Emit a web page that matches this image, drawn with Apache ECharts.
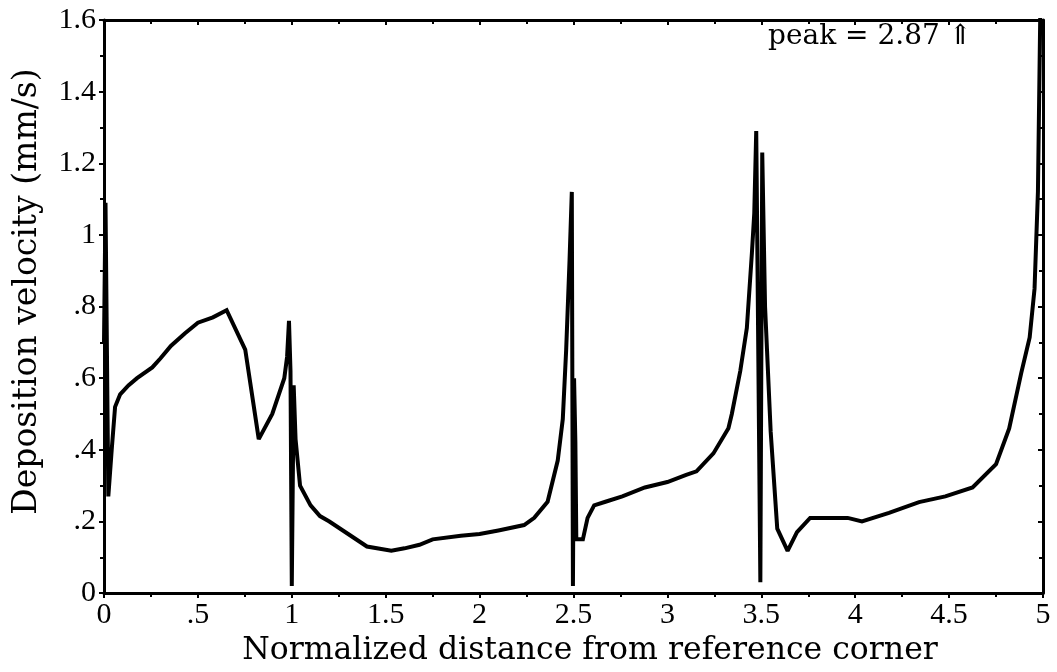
<!DOCTYPE html>
<html>
<head>
<meta charset="utf-8">
<script src="https://cdn.jsdelivr.net/npm/echarts@6/dist/echarts.min.js"></script>
<style>
html,body{margin:0;padding:0;background:#fff;}
#chart{width:1057px;height:672px;}
</style>
</head>
<body>
<div id="chart"></div>
<script>
// Normalized distance (x) and deposition velocity (mm/s)
const distance = [
  0, 0.008, 0.023, 0.041, 0.059, 0.086, 0.13, 0.176, 0.257, 0.3, 0.356, 0.43, 0.5, 0.58, 0.653,
  0.752, 0.824, 0.896, 0.96, 0.975, 0.985, 0.993, 1.0, 1.01, 1.02, 1.044, 1.1, 1.15, 1.2, 1.3,
  1.4, 1.53, 1.6, 1.68, 1.75, 1.9, 2.0, 2.1, 2.237, 2.291, 2.362, 2.416, 2.443, 2.461, 2.479,
  2.491, 2.497, 2.503, 2.51, 2.515, 2.55, 2.575, 2.61, 2.67, 2.76, 2.88, 3.0, 3.1, 3.155, 3.245,
  3.325, 3.343, 3.388, 3.423, 3.45, 3.4625, 3.473, 3.48, 3.495, 3.505, 3.52, 3.55, 3.585, 3.64,
  3.69, 3.76, 3.96, 4.036, 4.18, 4.34, 4.48, 4.625, 4.75, 4.82, 4.884, 4.929, 4.955, 4.973, 4.99, 5.0
];
const velocity = [
  0.7, 1.09, 0.27, 0.40, 0.52, 0.555, 0.58, 0.60, 0.63, 0.655, 0.69, 0.725, 0.755, 0.77, 0.79,
  0.68, 0.43, 0.50, 0.60, 0.66, 0.76, 0.62, 0.02, 0.58, 0.43, 0.30, 0.245, 0.215, 0.2, 0.165,
  0.13, 0.118, 0.125, 0.135, 0.15, 0.16, 0.165, 0.175, 0.19, 0.21, 0.255, 0.37, 0.486, 0.68, 0.93,
  1.12, 0.02, 0.60, 0.42, 0.15, 0.15, 0.21, 0.245, 0.255, 0.27, 0.295, 0.31, 0.33, 0.34, 0.39,
  0.46, 0.50, 0.62, 0.74, 0.95, 1.06, 1.29, 0.9, 0.03, 1.23, 0.8, 0.45, 0.18, 0.118,
  0.17, 0.21, 0.21, 0.20, 0.224, 0.254, 0.27, 0.295, 0.36, 0.46, 0.614, 0.714, 0.85, 1.12, 1.8, 2.87
];
const xTicks = [0, 0.5, 1, 1.5, 2, 2.5, 3, 3.5, 4, 4.5, 5];
const yTicks = [0, 0.2, 0.4, 0.6, 0.8, 1, 1.2, 1.4, 1.6];
const xTitle = 'Normalized distance from reference corner';
const yTitle = 'Deposition velocity (mm/s)';
const peakNote = 'peak = 2.87 \u21D1';

const FONT = '"Liberation Serif", "DejaVu Serif", serif';
const TITLE_FONT = '"DejaVu Serif", serif';
function fmt(v) {
  if (Math.abs(v) < 1e-9) return '0';
  let s = String(+v.toFixed(2));
  if (s.startsWith('0.')) s = s.slice(1);
  return s;
}
const seriesData = distance.map((x, i) => [x, velocity[i]]);

const axisLine = { show: true, onZero: false, lineStyle: { color: '#000', width: 3 } };
const tickStyle = { color: '#000', width: 2 };
const chart = echarts.init(document.getElementById('chart'));
chart.setOption({
  backgroundColor: '#fff',
  animation: false,
  grid: { left: 104, right: 14, top: 20, bottom: 71 },
  xAxis: [
    {
      type: 'value', min: xTicks[0], max: xTicks[xTicks.length - 1], interval: 0.5,
      position: 'bottom',
      axisLine, splitLine: { show: false },
      axisTick: { show: true, inside: false, length: 5, lineStyle: tickStyle },
      minorTick: { show: true, splitNumber: 2, length: 4, lineStyle: tickStyle },
      axisLabel: { color: '#000', fontFamily: FONT, fontSize: 30, margin: 7, formatter: fmt },
      name: xTitle, nameLocation: 'middle', nameGap: 40,
      nameTextStyle: { color: '#000', fontFamily: TITLE_FONT, fontSize: 31.5, padding: [0, 0, 0, 33] }
    },
    {
      type: 'value', min: xTicks[0], max: xTicks[xTicks.length - 1], interval: 0.5,
      position: 'top',
      axisLine, splitLine: { show: false },
      axisTick: { show: true, inside: true, length: 5, lineStyle: tickStyle },
      minorTick: { show: true, splitNumber: 2, length: 4, lineStyle: tickStyle },
      axisLabel: { show: false }
    }
  ],
  yAxis: [
    {
      type: 'value', min: yTicks[0], max: yTicks[yTicks.length - 1], interval: 0.2,
      position: 'left',
      axisLine, splitLine: { show: false },
      axisTick: { show: true, inside: false, length: 5, lineStyle: tickStyle },
      minorTick: { show: true, splitNumber: 2, length: 4, lineStyle: tickStyle },
      axisLabel: { color: '#000', fontFamily: FONT, fontSize: 30, margin: 8, formatter: fmt },
      name: yTitle, nameLocation: 'middle', nameGap: 60, nameRotate: 90,
      nameTextStyle: { color: '#000', fontFamily: TITLE_FONT, fontSize: 33, padding: [0, 0, 0, 30] }
    },
    {
      type: 'value', min: yTicks[0], max: yTicks[yTicks.length - 1], interval: 0.2,
      position: 'right',
      axisLine, splitLine: { show: false },
      axisTick: { show: true, inside: true, length: 5, lineStyle: tickStyle },
      minorTick: { show: true, splitNumber: 2, length: 4, lineStyle: tickStyle },
      axisLabel: { show: false }
    }
  ],
  series: [{
    type: 'line', xAxisIndex: 0, yAxisIndex: 0,
    data: seriesData, showSymbol: false, symbol: 'none', clip: true,
    lineStyle: { color: '#000', width: 4, join: 'miter', miterLimit: 2 }
  }],
  graphic: [{
    type: 'text', left: 768, top: 23,
    style: { text: peakNote, fill: '#000', font: '28px ' + TITLE_FONT }
  }]
});
</script>
</body>
</html>
